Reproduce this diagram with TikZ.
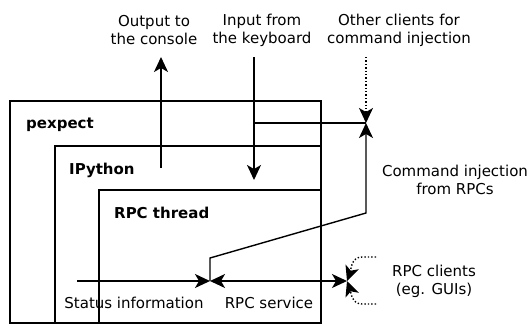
\documentclass[tikz,border=0pt]{standalone}
\usepackage{fontspec}
\setmainfont{DejaVu Sans}
\usetikzlibrary{%
  positioning
 ,arrows.meta
 ,calc
}
\tikzstyle{box}=[draw,line width=1.4pt]
\tikzstyle{lbl}=[font=\fontsize{15}{18}\selectfont,align=center,inner sep=0pt]
\tikzstyle{ttl}=[font=\fontsize{15}{18}\selectfont\bfseries,anchor=base west,inner sep=0pt]
\tikzstyle{flow}=[line width=1.4pt,-{Stealth[length=15pt,width=14pt,inset=4pt]}]
\tikzstyle{both}=[line width=1.4pt,{Stealth[length=15pt,width=14pt,inset=4pt]}-{Stealth[length=15pt,width=14pt,inset=4pt]}]
\tikzstyle{dots}=[flow,dotted]

\begin{document}
\begin{tikzpicture}[x=1pt,y=-1pt]
  \useasboundingbox (0,0) rectangle (529,325);
  % nested boxes
  \draw[box] (10,101) rectangle (321,323);
  \draw[box] (55,146) rectangle (321,323);
  \draw[box] (99,190) rectangle (321,323);
  \node[ttl] (pex) at (26,128) {pexpect};
  \node[ttl] (ipy) at (69,174) {IPython};
  \node[ttl] (rpc) at (114,218) {RPC thread};

  % labels
  \node[lbl] (out) at (154,30) {Output to\\the console};
  \node[lbl] (in)  at (262,30) {Input from\\the keyboard};
  \node[lbl] (oth) at (399,30) {Other clients for\\command injection};
  \node[lbl] (inj) at (455,180) {Command injection\\from RPCs};
  \node[lbl] (cli) at (434,281) {RPC clients\\(eg. GUIs)};
  \node[lbl] (st)  at (134,303) {Status information};
  \node[lbl] (srv) at (269,303) {RPC service};

  % end points
  \coordinate (o0) at (161,168);
  \coordinate (o1) at (161,57);
  \coordinate (i0) at (254,57);
  \coordinate (i1) at (254,180);
  \coordinate (ib) at (254,123);
  \coordinate (j)  at (366,123);
  \coordinate (d0) at (366,57);
  \coordinate (s0) at (77,281);
  \coordinate (s1) at (210,281);
  \coordinate (c)  at (347,281);

  \draw[flow] (o0) -- (o1);
  \draw[flow] (i0) -- (i1);
  \draw[line width=1.4pt] (ib) -- (j);
  \draw[dots] (d0) -- (j);
  \draw[flow] (s1) -- ++(0,-23) -- (366,213) -- (j);
  \draw[flow] (s0) -- (s1);
  \draw[both] (s1) -- (c);
  \draw[dots] (376,257) -- (362,257) to[out=180,in=70] (c);
  \draw[dots] (376,304) -- (362,304) to[out=180,in=-70] (c);
\end{tikzpicture}
\end{document}
